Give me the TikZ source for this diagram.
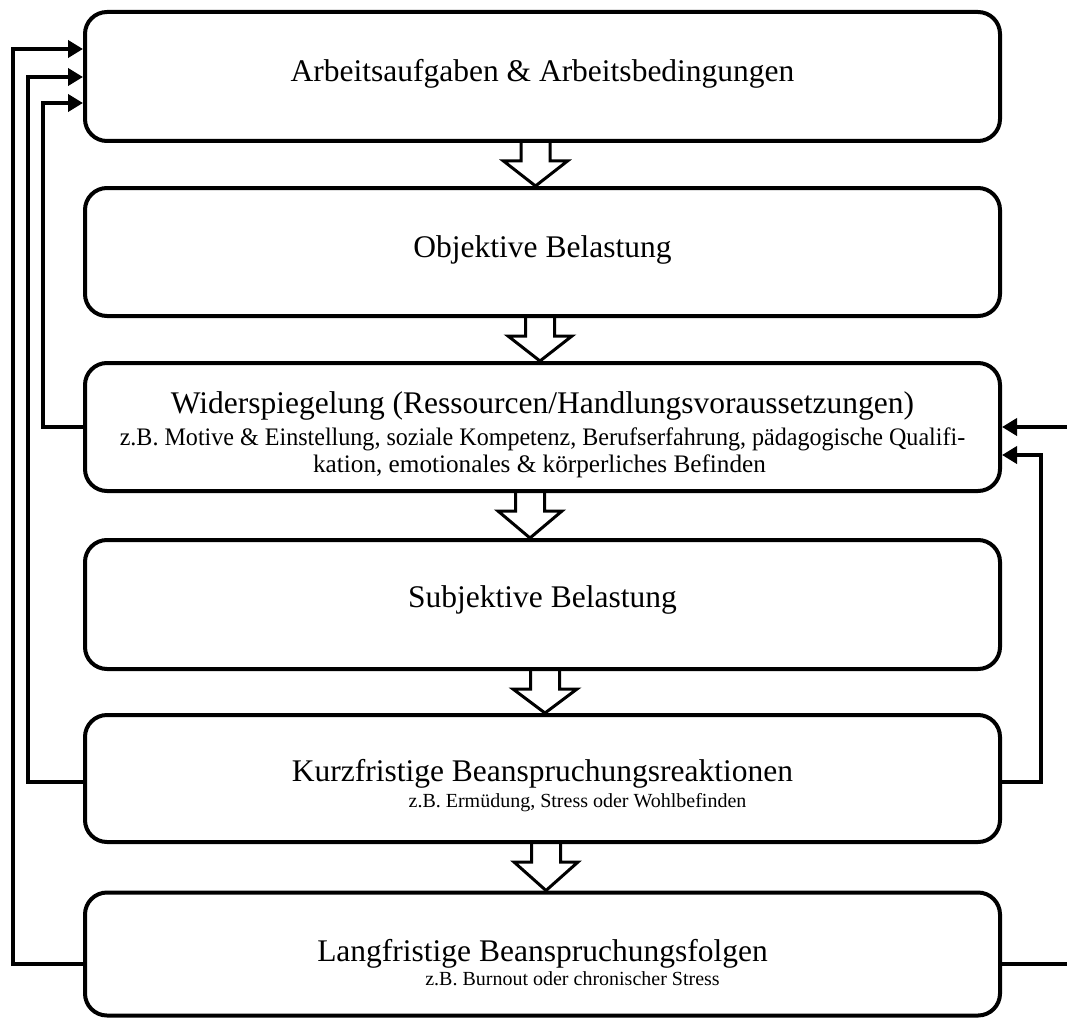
\documentclass[tikz,border=0pt]{standalone}
\usepackage{fontspec}
\setmainfont{Liberation Serif}
\usetikzlibrary{arrows.meta,calc}
\newcommand\blockarr[3]{%
  \draw[barrow] ($(#1.south)+(#3-14.5,0)$) -- ++(0,18) -- ++(-17.5,0)
    -- ($(#2.north)+(#3,0)$) -- ($(#1.south)+(#3+32,18)$) -- ++(-17.5,0) -- ++(0,-18);}
\begin{document}
\begin{tikzpicture}[x=1pt,y=-1pt,
  box/.style={draw,line width=4pt,rounded corners=22pt,minimum width=915pt,inner sep=0pt},
  ttl/.style={font=\fontsize{31.5}{36}\selectfont,inner sep=0pt,anchor=base},
  subw/.style={font=\fontsize{25.2}{27}\selectfont,inner sep=0pt,anchor=base},
  sub/.style={font=\fontsize{20}{24}\selectfont,inner sep=0pt,anchor=base},
  conn/.style={line width=4pt,line join=miter},
  tip/.style={-{Triangle[length=15pt,width=17pt]}},
  barrow/.style={line width=3pt,line join=miter}]
\useasboundingbox (0,0) rectangle (1067,1019);
% boxes
\node[box,minimum height=129pt] (b1) at (542.5,76.5) {};
\node[box,minimum height=128pt] (b2) at (542.5,252) {};
\node[box,minimum height=128pt] (b3) at (542.5,427) {};
\node[box,minimum height=129pt] (b4) at (542.5,604.5) {};
\node[box,minimum height=127pt] (b5) at (542.5,778.5) {};
\node[box,minimum height=123pt] (b6) at (542.5,954) {};
% texts
\node[ttl] (t1) at ($(b1.center)+(0,5.5)$) {Arbeitsaufgaben \& Arbeitsbedingungen};
\node[ttl] (t2) at ($(b2.center)+(0,5)$) {Objektive Belastung};
\node[ttl] (t3) at ($(b3.center)+(0,-14)$) {Widerspiegelung (Ressourcen/Handlungsvoraussetzungen)};
\node[subw,xscale=0.955] (s3a) at ($(b3.center)+(0,18)$) {z.B. Motive \& Einstellung, soziale Kompetenz, Berufserfahrung, pädagogische Qualifi-};
\node[subw] (s3b) at ($(b3.center)+(-3,45)$) {kation, emotionales \& körperliches Befinden};
\node[ttl] (t4) at ($(b4.center)+(0,3)$) {Subjektive Belastung};
\node[ttl] (t5) at ($(b5.center)+(0,3)$) {Kurzfristige Beanspruchungsreaktionen};
\node[sub] (s5) at ($(b5.center)+(35,29)$) {z.B. Ermüdung, Stress oder Wohlbefinden};
\node[ttl] (t6) at ($(b6.center)+(0,7)$) {Langfristige Beanspruchungsfolgen};
\node[sub] (s6) at ($(b6.center)+(30,31)$) {z.B. Burnout oder chronischer Stress};
% block arrows
\blockarr{b1}{b2}{-7}
\blockarr{b2}{b3}{-2.5}
\blockarr{b3}{b4}{-12.5}
\blockarr{b4}{b5}{2.5}
\blockarr{b5}{b6}{3.5}
% feedback connectors
\draw[conn,tip] (b6.west |- 0,964) -- (13,964) -- (13,49) -- (b1.west |- 0,49);
\draw[conn,tip] (b5.west |- 0,782) -- (28,782) -- (28,77) -- (b1.west |- 0,77);
\draw[conn,tip] (b3.west |- 0,427) -- (43,427) -- (43,103) -- (b1.west |- 0,103);
\draw[conn,tip] (b6.east |- 0,964) -- (1090,964) -- (1090,427) -- (b3.east |- 0,427);
\draw[conn,tip] (b5.east |- 0,782) -- (1041,782) -- (1041,455) -- (b3.east |- 0,455);
\end{tikzpicture}
\end{document}
